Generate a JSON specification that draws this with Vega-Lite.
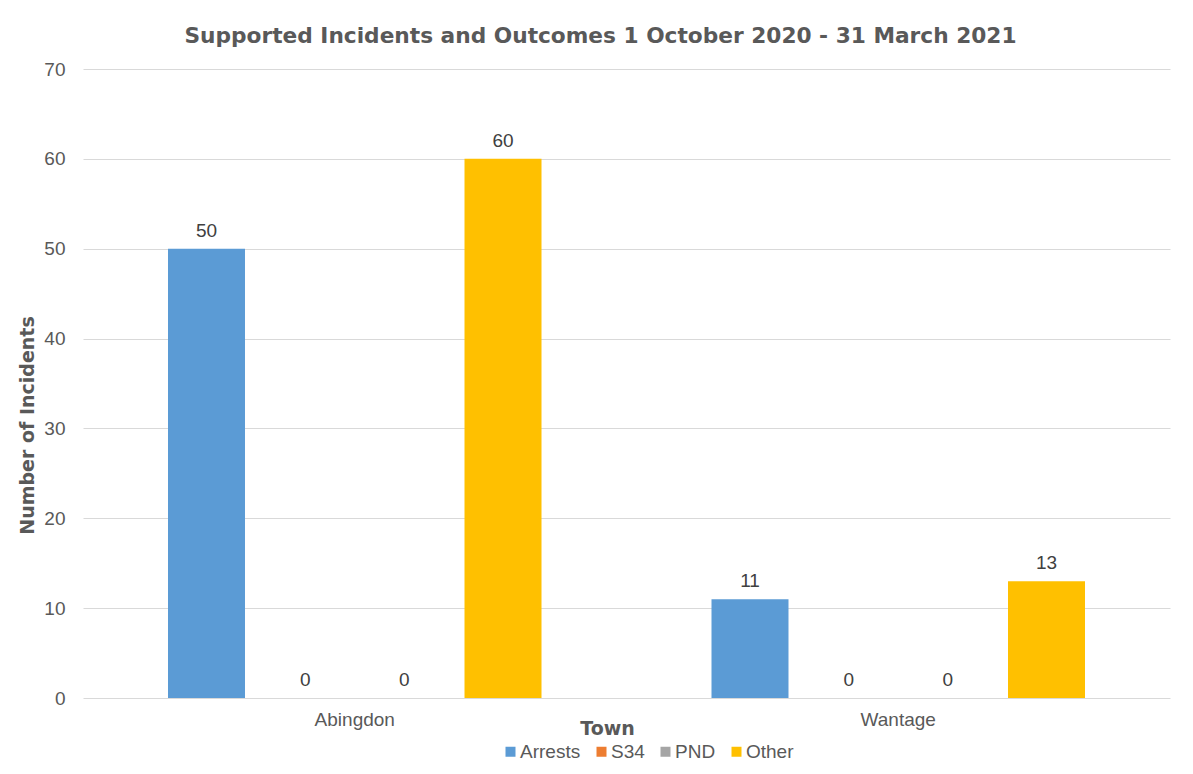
{
  "$schema": "https://vega.github.io/schema/vega-lite/v6.json",
  "width": 1087,
  "height": 629,
  "autosize": {"type": "none"},
  "padding": {"left": 83, "top": 69, "right": 23, "bottom": 76},
  "background": "white",
  "title": {
    "text": "Supported Incidents and Outcomes 1 October 2020 - 31 March 2021",
    "font": "DejaVu Sans",
    "fontSize": 21.7,
    "fontWeight": "bold",
    "color": "#595959",
    "anchor": "middle",
    "dx": -26,
    "offset": 12
  },
  "data": {
    "values": [
      {"Town": "Abingdon", "Outcome": "Arrests", "Count": 50},
      {"Town": "Abingdon", "Outcome": "S34", "Count": 0},
      {"Town": "Abingdon", "Outcome": "PND", "Count": 0},
      {"Town": "Abingdon", "Outcome": "Other", "Count": 60},
      {"Town": "Wantage", "Outcome": "Arrests", "Count": 11},
      {"Town": "Wantage", "Outcome": "S34", "Count": 0},
      {"Town": "Wantage", "Outcome": "PND", "Count": 0},
      {"Town": "Wantage", "Outcome": "Other", "Count": 13}
    ]
  },
  "encoding": {
    "x": {
      "field": "Town",
      "type": "nominal",
      "scale": {"paddingInner": 0, "paddingOuter": 0},
      "axis": {
        "title": "Town",
        "labelAngle": 0,
        "labelFont": "Liberation Sans",
        "labelFontSize": 19,
        "labelColor": "#595959",
        "labelPadding": 12,
        "ticks": false,
        "domain": false,
        "titleFont": "DejaVu Sans",
        "titleFontSize": 19,
        "titleFontWeight": "bold",
        "titleColor": "#595959",
        "titleX": 524,
        "titleY": 30,
        "titleBaseline": "middle"
      }
    },
    "xOffset": {
      "field": "Outcome",
      "type": "nominal",
      "sort": ["Arrests", "S34", "PND", "Other"],
      "scale": {"paddingInner": 0.221, "paddingOuter": 0.86}
    },
    "y": {
      "field": "Count",
      "type": "quantitative",
      "scale": {"domain": [0, 70]},
      "axis": {
        "title": "Number of Incidents",
        "values": [0, 10, 20, 30, 40, 50, 60, 70],
        "labelFont": "Liberation Sans",
        "labelFontSize": 19,
        "labelColor": "#595959",
        "labelPadding": 18,
        "ticks": false,
        "domain": false,
        "gridColor": "#D9D9D9",
        "gridWidth": 1,
        "titleFont": "DejaVu Sans",
        "titleFontSize": 19,
        "titleFontWeight": "bold",
        "titleColor": "#595959",
        "titleAngle": -90,
        "titleX": -56,
        "titleY": 356,
        "titleAlign": "center",
        "titleBaseline": "middle"
      }
    }
  },
  "layer": [
    {
      "mark": {"type": "bar"},
      "encoding": {
        "color": {
          "field": "Outcome",
          "type": "nominal",
          "sort": ["Arrests", "S34", "PND", "Other"],
          "scale": {
            "domain": ["Arrests", "S34", "PND", "Other"],
            "range": ["#5B9BD5", "#ED7D31", "#A5A5A5", "#FFC000"]
          },
          "legend": {
            "title": null,
            "orient": "none",
            "direction": "horizontal",
            "legendX": 418,
            "legendY": 673,
            "symbolType": "square",
            "symbolSize": 100,
            "symbolStrokeWidth": 0,
            "symbolOpacity": 1,
            "labelFont": "Liberation Sans",
            "labelFontSize": 19,
            "labelColor": "#595959",
            "labelOffset": 0,
            "columnPadding": 11
          }
        }
      }
    },
    {
      "mark": {
        "type": "text",
        "baseline": "alphabetic",
        "dy": -12,
        "font": "Liberation Sans",
        "fontSize": 19,
        "color": "#404040"
      },
      "encoding": {
        "text": {"field": "Count", "type": "quantitative"}
      }
    }
  ],
  "config": {
    "view": {"stroke": null}
  }
}
